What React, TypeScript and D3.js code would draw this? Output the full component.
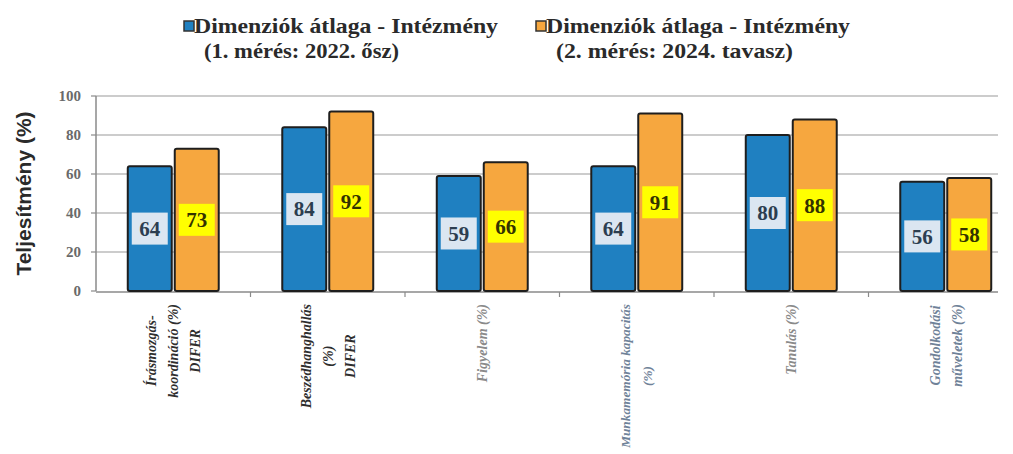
import React, { useEffect, useRef } from "react";
import * as d3 from "d3";

const categories: string[][] = [
  ["Írásmozgás-", "koordináció (%)", "DIFER"],
  ["Beszédhanghallás", "(%)", "DIFER"],
  ["Figyelem (%)"],
  ["Munkamemória kapacitás", "(%)"],
  ["Tanulás (%)"],
  ["Gondolkodási", "műveletek (%)"],
];
const series1: number[] = [64, 84, 59, 64, 80, 56];
const series2: number[] = [73, 92, 66, 91, 88, 58];
const yTicks: number[] = [0, 20, 40, 60, 80, 100];
const legend1: string[] = ["Dimenziók átlaga - Intézmény", "(1. mérés: 2022. ősz)"];
const legend2: string[] = ["Dimenziók átlaga - Intézmény", "(2. mérés: 2024. tavasz)"];

const labelColors = ["#2e2e2e", "#2e2e2e", "#8a8a8a", "#6f8298", "#8a8a8a", "#6f8298"];

const W = 1013;
const H = 454;

export default function App() {
  const ref = useRef<SVGSVGElement | null>(null);

  useEffect(() => {
    const svg = d3.select(ref.current);
    svg.selectAll("*").remove();

    const left = 96, right = 1023, top = 96, bottom = 291;
    const x = d3.scaleBand<number>().domain(d3.range(categories.length)).range([left, right]);
    const inner = d3.scaleBand<number>().domain([0, 1]).range([0, x.bandwidth()]).paddingInner(0.064).paddingOuter(0.676);
    const y = d3.scaleLinear().domain([0, 100]).range([bottom, top]);
    const gridRight = 998;

    // gridlines
    svg.append("g").selectAll("line").data(yTicks.filter(t => t > 0)).join("line")
      .attr("x1", left).attr("x2", gridRight)
      .attr("y1", d => y(d)).attr("y2", d => y(d))
      .attr("stroke", "#9a9a9a").attr("stroke-width", 1.2);

    // y axis
    const ya = svg.append("g");
    ya.append("line").attr("x1", left).attr("x2", left).attr("y1", top).attr("y2", bottom)
      .attr("stroke", "#8a8a8a").attr("stroke-width", 1.5);
    ya.selectAll("line.t").data(yTicks).join("line").attr("class", "t")
      .attr("x1", left - 5).attr("x2", left).attr("y1", d => y(d)).attr("y2", d => y(d))
      .attr("stroke", "#8a8a8a").attr("stroke-width", 1.2);
    ya.selectAll("text").data(yTicks).join("text")
      .attr("x", 81).attr("y", d => y(d)).attr("dy", "0.35em")
      .attr("text-anchor", "end").attr("font-family", "'Liberation Serif', serif")
      .attr("font-weight", "bold").attr("font-size", 15).attr("fill", "#6a6a6a")
      .text(d => String(d));

    // y title
    svg.append("text")
      .attr("transform", `translate(24,${(top + bottom) / 2}) rotate(-90)`)
      .attr("dy", "0.35em")
      .attr("text-anchor", "middle").attr("font-family", "'Liberation Sans', Arial, sans-serif")
      .attr("font-weight", "bold").attr("font-size", 21).attr("fill", "#2a2a2a")
      .text("Teljesítmény (%)");

    // x axis
    svg.append("line").attr("x1", left).attr("x2", gridRight).attr("y1", bottom + 1).attr("y2", bottom + 1)
      .attr("stroke", "#8a8a8a").attr("stroke-width", 1.5);
    svg.append("g").selectAll("line").data(d3.range(1, categories.length)).join("line")
      .attr("x1", d => x(d)!).attr("x2", d => x(d)!).attr("y1", bottom + 1).attr("y2", bottom + 6)
      .attr("stroke", "#8a8a8a").attr("stroke-width", 1.2);

    const colors = ["#1f80c1", "#f6a73f"];
    const data = [series1, series2];
    const groups = svg.append("g").selectAll("g").data(categories.map((_, i) => i)).join("g")
      .attr("transform", i => `translate(${x(i)},0)`);

    [0, 1].forEach(s => {
      groups.append("rect")
        .attr("x", inner(s)!).attr("width", inner.bandwidth())
        .attr("y", i => y(data[s][i])).attr("height", i => y(0) - y(data[s][i]))
        .attr("rx", 2)
        .attr("fill", colors[s]).attr("stroke", "#1e1e1e").attr("stroke-width", 2);
      groups.append("rect")
        .attr("x", inner(s)! + inner.bandwidth() / 2 - 18).attr("width", 36)
        .attr("y", i => y(data[s][i] / 2) - 16).attr("height", 32)
        .attr("fill", s === 0 ? "#dbe6f1" : "#ffff00");
      groups.append("text")
        .attr("x", inner(s)! + inner.bandwidth() / 2)
        .attr("y", i => y(data[s][i] / 2)).attr("dy", "0.35em")
        .attr("text-anchor", "middle").attr("font-family", "'Liberation Serif', serif")
        .attr("font-weight", "bold").attr("font-size", 21).attr("fill", s === 0 ? "#2c3e50" : "#333300")
        .text(i => String(data[s][i]));
    });

    // x labels
    const labelTop = 304;
    const labelBottom = 448;
    categories.forEach((lines, i) => {
      const cx = x(i)! + x.bandwidth() / 2;
      const lh = 22;
      const g = svg.append("g");
      const texts = lines.map((ln) =>
        g.append("text")
          .attr("text-anchor", "middle")
          .attr("dy", "0.35em")
          .attr("font-family", "'Liberation Serif', serif")
          .attr("font-weight", "bold").attr("font-style", "italic")
          .attr("font-size", 14).attr("fill", labelColors[i])
          .text(ln)
      );
      let lens = texts.map(t => (t.node() as SVGTextElement).getComputedTextLength());
      let maxLen = Math.max(...lens);
      const avail = labelBottom - labelTop;
      if (maxLen > avail) {
        const fs = Math.floor((14 * avail) / maxLen * 10) / 10;
        texts.forEach(t => t.attr("font-size", fs));
        maxLen = avail;
      }
      const cy = labelTop + maxLen / 2;
      texts.forEach((t, k) => {
        const lx = cx + (k - (lines.length - 1) / 2) * lh;
        t.attr("transform", `translate(${lx},${cy}) rotate(-90)`);
      });
    });

    // legend
    const leg = [
      { x: 184, lines: legend1, color: colors[0] },
      { x: 536, lines: legend2, color: colors[1] },
    ];
    leg.forEach((l, j) => {
      svg.append("rect").attr("x", l.x).attr("y", 21).attr("width", 10).attr("height", 10)
        .attr("fill", l.color).attr("stroke", "#333").attr("stroke-width", 1.5);
      svg.append("text").attr("x", l.x + 10).attr("y", 33)
        .attr("font-family", "'Liberation Serif', serif").attr("font-weight", "bold")
        .attr("font-size", 22).attr("fill", "#2a2a2a")
        .attr("textLength", 304).attr("lengthAdjust", "spacingAndGlyphs")
        .text(l.lines[0]);
      svg.append("text").attr("x", l.x + 20).attr("y", 58)
        .attr("font-family", "'Liberation Serif', serif").attr("font-weight", "bold")
        .attr("font-size", 22).attr("fill", "#2a2a2a")
        .attr("textLength", j === 0 ? 195 : 237).attr("lengthAdjust", "spacingAndGlyphs")
        .text(l.lines[1]);
    });
  }, []);

  return (
    <svg ref={ref} width={W} height={H} style={{ position: "absolute", left: 0, top: 0, background: "#fff" }} />
  );
}
